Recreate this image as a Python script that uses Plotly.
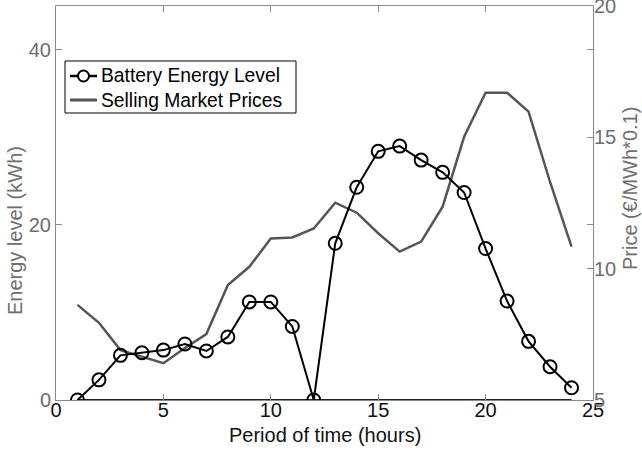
import plotly.graph_objects as go

hours = list(range(1, 25))
battery_energy = [0.0, 2.3, 5.1, 5.4, 5.7, 6.4, 5.6, 7.2, 11.2, 11.2, 8.4, 0.0,
                  17.9, 24.3, 28.4, 29.0, 27.4, 26.0, 23.7, 17.3, 11.3, 6.7, 3.8, 1.4]
selling_price = [8.62, 7.94, 6.9, 6.65, 6.4, 6.98, 7.51, 9.38, 10.07, 11.15, 11.19, 11.53,
                 12.51, 12.13, 11.35, 10.65, 11.03, 12.36, 15.02, 16.7, 16.7, 15.98, 13.3, 10.84]
zero_level = [0] * 24

x_ticks = [0, 5, 10, 15, 20, 25]
left_ticks = [0, 20, 40]
right_ticks = [5, 10, 15, 20]

series_names = ["Battery Energy Level", "Selling Market Prices"]

FONT = "Liberation Sans, Arial, sans-serif"
GREY = "#6e6e6e"
LINEGREY = "#8a8a8a"
PRICE_COLOR = "#555555"

W, H = 642, 453
ML, MR, MT, MB = 56, 49, 6, 53
PW, PH = W - ML - MR, H - MT - MB


def px(xp):
    return (xp - ML) / PW


def py(yp):
    return (H - MB - yp) / PH


fig = go.Figure()
fig.add_trace(go.Scatter(x=hours, y=selling_price, mode="lines", name=series_names[1],
                         line=dict(color=PRICE_COLOR, width=2.5), yaxis="y", showlegend=False))
fig.add_trace(go.Scatter(x=hours, y=zero_level, mode="lines", showlegend=False,
                         line=dict(color="#222222", width=2), yaxis="y2"))
fig.add_trace(go.Scatter(x=hours, y=battery_energy, mode="lines+markers", name=series_names[0],
                         line=dict(color="black", width=2),
                         marker=dict(symbol="circle-open", size=13, color="black", line=dict(width=2)),
                         yaxis="y2", showlegend=False))

axis_common = dict(showline=True, linecolor=LINEGREY, linewidth=1, ticks="inside", ticklen=6,
                   tickcolor=LINEGREY, showgrid=False, zeroline=False, automargin=False,
                   ticklabeloverflow="allow")

# manual legend (box, samples, labels)
shapes = [
    dict(type="rect", xref="paper", yref="paper", x0=px(65), x1=px(296), y0=py(113), y1=py(61),
         line=dict(color="black", width=1), fillcolor="white", layer="above"),
    dict(type="line", xref="paper", yref="paper", x0=px(70), x1=px(97), y0=py(76), y1=py(76),
         line=dict(color="black", width=2.5), layer="above"),
    dict(type="circle", xref="paper", yref="paper", x0=px(78), x1=px(89), y0=py(81.5), y1=py(70.5),
         line=dict(color="black", width=2), fillcolor="white", layer="above"),
    dict(type="line", xref="paper", yref="paper", x0=px(70), x1=px(97), y0=py(100), y1=py(100),
         line=dict(color=PRICE_COLOR, width=3), layer="above"),
]

annotations = [
    dict(text=series_names[0], xref="paper", yref="paper", x=px(99), y=py(76),
         xanchor="left", yanchor="middle", showarrow=False, font=dict(size=19.3, color="black")),
    dict(text=series_names[1], xref="paper", yref="paper", x=px(99), y=py(100),
         xanchor="left", yanchor="middle", showarrow=False, font=dict(size=19.3, color="black")),
    dict(text="Period of time (hours)", xref="paper", yref="paper", x=0.5, y=py(435),
         xanchor="center", yanchor="middle", showarrow=False, font=dict(size=20, color="#111111")),
    dict(text="Energy level (kWh)", xref="paper", yref="paper", x=px(15), y=py(231),
         xanchor="center", yanchor="middle", textangle=-90, showarrow=False,
         font=dict(size=20, color=GREY)),
    dict(text="Price (€/MWh*0.1)", xref="paper", yref="paper", x=px(630), y=py(189),
         xanchor="center", yanchor="middle", textangle=-90, showarrow=False,
         font=dict(size=20, color=GREY)),
]

fig.update_layout(
    width=W, height=H,
    margin=dict(l=ML, r=MR, t=MT, b=MB, autoexpand=False),
    plot_bgcolor="white", paper_bgcolor="white",
    font=dict(family=FONT, size=19, color="black"),
    showlegend=False,
    xaxis=dict(range=[0, 25], tickvals=x_ticks, mirror="ticks", ticklabelstandoff=-8,
               tickfont=dict(size=20, color="#111111"), **axis_common),
    yaxis=dict(range=[5, 20], tickvals=right_ticks, side="right", ticklabelstandoff=-4,
               tickfont=dict(size=20, color=GREY), **axis_common),
    yaxis2=dict(range=[0, 45], tickvals=left_ticks, side="left", overlaying="y", mirror="ticks",
                tickfont=dict(size=20, color=GREY), **axis_common),
    shapes=shapes,
    annotations=annotations,
)

fig.write_html("out.html", config={"displayModeBar": False},
               post_script="document.body.style.margin='0px';")
